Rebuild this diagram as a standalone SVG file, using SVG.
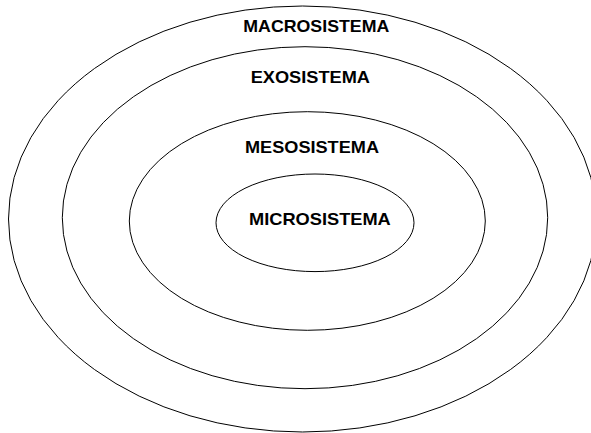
<svg xmlns="http://www.w3.org/2000/svg" width="591" height="433" viewBox="0 0 591 433">
<style>
.ring{fill:none;stroke:#000;stroke-width:1}
.lbl{font-family:"Liberation Sans",Arial,sans-serif;font-weight:bold;font-size:16.3px;fill:#000;text-anchor:middle}
</style>
<rect width="591" height="433" fill="#fff"/>
<g id="macrosistema">
<ellipse class="ring" cx="302.5" cy="219" rx="294" ry="213"/>
<text class="lbl" x="316.3" y="32.3" textLength="146" lengthAdjust="spacingAndGlyphs">MACROSISTEMA</text>
</g>
<g id="exosistema">
<ellipse class="ring" cx="305" cy="217.7" rx="242.7" ry="171"/>
<text class="lbl" x="310.3" y="82.7" textLength="119.3" lengthAdjust="spacingAndGlyphs">EXOSISTEMA</text>
</g>
<g id="mesosistema">
<ellipse class="ring" cx="307.3" cy="221" rx="178" ry="109.3"/>
<text class="lbl" x="312" y="153.3" textLength="134" lengthAdjust="spacingAndGlyphs">MESOSISTEMA</text>
</g>
<g id="microsistema">
<ellipse class="ring" cx="315" cy="222.8" rx="99" ry="48.8"/>
<text class="lbl" x="319.9" y="225" textLength="141.7" lengthAdjust="spacingAndGlyphs">MICROSISTEMA</text>
</g>
<g id="connectors"></g>
</svg>
